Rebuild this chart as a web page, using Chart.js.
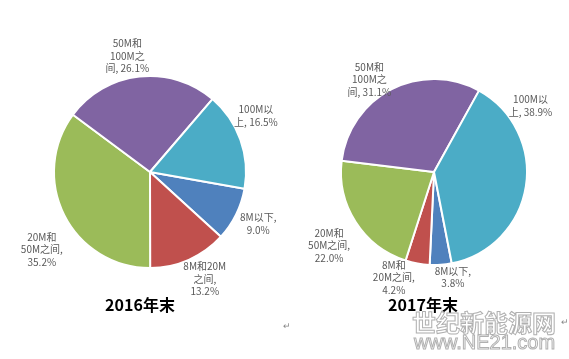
<!DOCTYPE html>
<html>
<head>
<meta charset="utf-8">
<script src="https://cdn.jsdelivr.net/npm/chart.js@4/dist/chart.umd.min.js"></script>
<style>
  body { margin: 0; background: #fff; }
  #wrap { position: relative; width: 569px; height: 359px; overflow: hidden; font-family: "Noto Sans CJK SC", sans-serif; }
  canvas { position: absolute; top: 0; }
  .mark { position: absolute; color: #888; font-size: 9px; }
  .wm { position: absolute; color: #fff; -webkit-text-stroke: 1px #b0b0b0; white-space: nowrap; }
</style>
</head>
<body>
<div id="wrap">
  <canvas id="pie2016" width="285" height="359" style="left:0"></canvas>
  <canvas id="pie2017" width="284" height="359" style="left:285px"></canvas>
  <div class="mark" style="left:283px;top:319px">↵</div>
  <div class="mark" style="left:561px;top:315px">↵</div>
  <div class="wm" style="left:412px;top:304px;font-size:24px;font-weight:bold">世纪新能源网</div>
  <div class="wm" style="left:414px;top:331px;font-size:20px;font-family:'Liberation Sans'">www.NE21.com</div>
</div>
<script>
// categories (Excel order, clockwise)
var categories = [
  ['8M以下,'],
  ['8M和20M', '之间,'],
  ['20M和', '50M之间,'],
  ['50M和', '100M之', '间,'],
  ['100M以', '上,']
];
var categories2017 = [
  ['8M以下,'],
  ['8M和', '20M之间,'],
  ['20M和', '50M之间,'],
  ['50M和', '100M之', '间,'],
  ['100M以', '上,']
];
var share2016 = [9.0, 13.2, 35.2, 26.1, 16.5];
var share2017 = [3.8, 4.2, 22.0, 31.1, 38.9];
var colors = ['#4F81BD', '#C0504D', '#9BBB59', '#8064A2', '#4BACC6'];

// outside label placement: [fraction along the slice, gap beyond the rim]
var place2016 = [[0.48, 24], [0.43, 24], [0.43, 37], [0.45, 22], [0.36, 24]];
var place2017 = [[0.06, 14], [1.2, 20], [0.47, 35], [0.43, 20], [0.19, 24]];

function makeLabel(v, lines) {
  // Excel puts the value on the last line when it fits, else on a new line
  var out = lines.slice();
  var last = out[out.length - 1];
  if (last === '上,' || last === '间,') {
    out[out.length - 1] = last + ' ' + v.toFixed(1) + '%';
  } else {
    out.push(v.toFixed(1) + '%');
  }
  return out;
}

var outsideLabels = {
  id: 'outsideLabels',
  afterDatasetsDraw: function(chart, args, opts) {
    var ctx = chart.ctx;
    var meta = chart.getDatasetMeta(0);
    var data = chart.data.datasets[0].data;
    ctx.save();
    ctx.font = '10px "Noto Sans CJK SC", sans-serif';
    ctx.fillStyle = '#595959';
    ctx.textAlign = 'center';
    ctx.textBaseline = 'middle';
    meta.data.forEach(function(arc, i) {
      var p = opts.place[i];
      var a = arc.startAngle + p[0] * (arc.endAngle - arc.startAngle);
      var d = arc.outerRadius + p[1];
      var cx = arc.x + Math.cos(a) * d;
      var cy = arc.y + Math.sin(a) * d;
      var lines = makeLabel(data[i], opts.names[i]);
      var lh = 12.5;
      var y0 = cy - (lines.length - 1) * lh / 2;
      lines.forEach(function(t, k) { ctx.fillText(t, cx, y0 + k * lh); });
    });
    // title under the pie
    ctx.font = 'bold 16px "Noto Sans CJK SC", sans-serif';
    ctx.fillStyle = '#000';
    ctx.fillText(opts.title, opts.titleX, 305);
    ctx.restore();
  }
};

function pie(id, values, names, place, title, titleX, rot, pad) {
  return new Chart(document.getElementById(id), {
    type: 'pie',
    data: {
      labels: names.map(function(n) { return n.join(''); }),
      datasets: [{
        data: values,
        backgroundColor: colors,
        borderColor: '#fff',
        borderWidth: 2,
        hoverOffset: 0
      }]
    },
    options: {
      responsive: false,
      animation: false,
      rotation: rot,
      layout: { padding: pad },
      plugins: {
        legend: { display: false },
        tooltip: { enabled: false },
        outsideLabels: { place: place, names: names, title: title, titleX: titleX }
      }
    },
    plugins: [outsideLabels]
  });
}

pie('pie2016', share2016, categories, place2016, '2016年末', 140, 100,
  { left: 53, right: 38, top: 75, bottom: 90 });
pie('pie2017', share2017, categories2017, place2017, '2017年末', 138, 169,
  { left: 55, right: 41, top: 78, bottom: 93 });
</script>
</body>
</html>
